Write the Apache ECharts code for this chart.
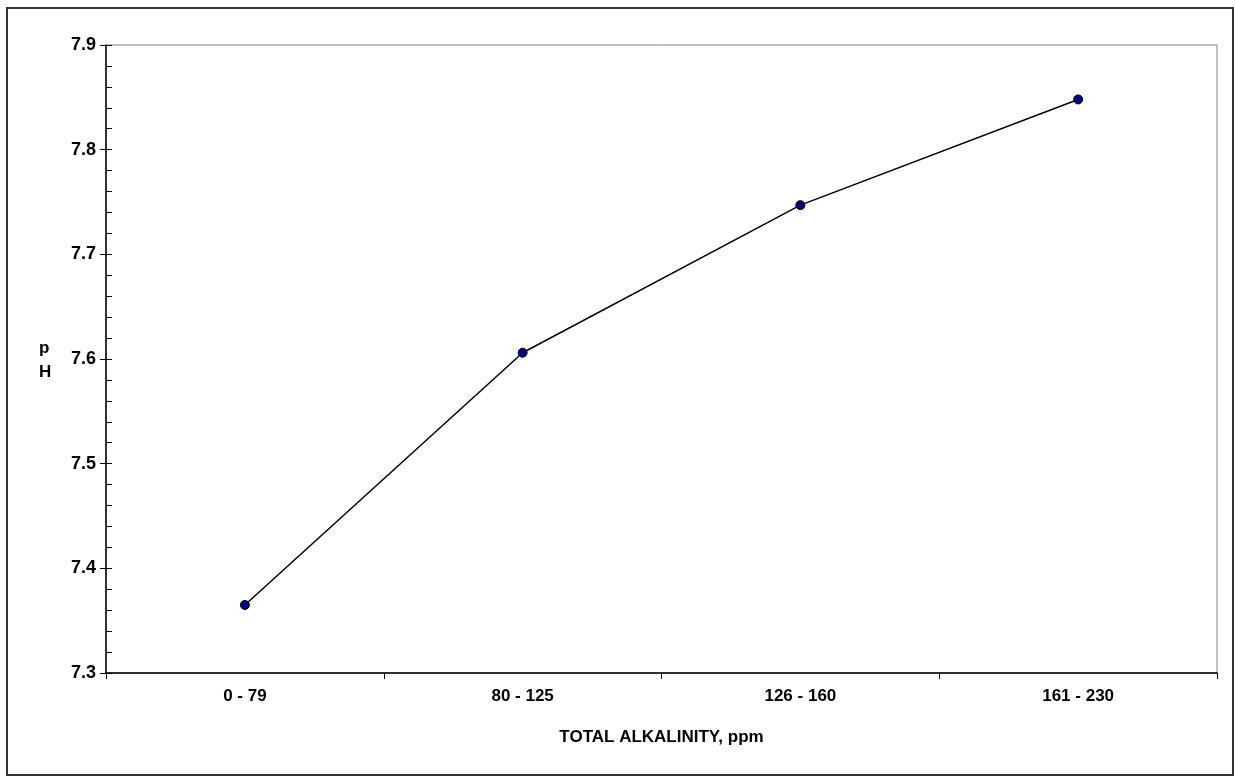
<!DOCTYPE html>
<html>
<head>
<meta charset="utf-8">
<script src="https://cdn.jsdelivr.net/npm/echarts@6/dist/echarts.min.js"></script>
<style>
html,body{margin:0;padding:0;background:#fff;}
#c{width:1235px;height:776px;}
</style>
</head>
<body>
<div id="c"></div>
<script>
const categories = ['0 - 79', '80 - 125', '126 - 160', '161 - 230'];
const phValues = [7.365, 7.606, 7.747, 7.848];
const xAxisTitle = 'TOTAL ALKALINITY, ppm';
const yAxisTitle = 'p\nH';

const chart = echarts.init(document.getElementById('c'));
const font = '"Liberation Sans", Arial, sans-serif';
chart.setOption({
  animation: false,
  backgroundColor: '#fff',
  grid: { left: 106, right: 18, top: 45, bottom: 103, show: true, borderColor: '#808080', borderWidth: 1, backgroundColor: 'transparent' },
  graphic: [
    { type: 'rect', shape: { x: 7, y: 8, width: 1226, height: 767 }, style: { fill: 'none', stroke: '#333', lineWidth: 2 }, silent: true },
    { type: 'text', left: 39, top: 336, style: { text: yAxisTitle, font: 'bold 17px ' + font, fill: '#000', lineHeight: 24 } }
  ],
  xAxis: {
    type: 'category', data: categories, boundaryGap: true,
    axisLine: { lineStyle: { color: '#000', width: 1.5 } },
    axisTick: { show: true, length: 6, lineStyle: { color: '#000' } },
    axisLabel: { color: '#000', fontFamily: font, fontWeight: 'bold', fontSize: 17, margin: 15 },
    name: xAxisTitle, nameLocation: 'middle', nameGap: 56,
    nameTextStyle: { color: '#000', fontFamily: font, fontWeight: 'bold', fontSize: 17 },
    splitLine: { show: false }
  },
  yAxis: [
    {
      type: 'value', min: 7.3, max: 7.9, interval: 0.1,
      axisLine: { show: true, lineStyle: { color: '#000', width: 1.5 } },
      axisTick: { show: true, length: 6, lineStyle: { color: '#000' } },
      axisLabel: { color: '#000', fontFamily: font, fontWeight: 'bold', fontSize: 18, margin: 10, formatter: v => v.toFixed(1) },
      splitLine: { show: false }
    },
    {
      type: 'value', min: 7.3, max: 7.9, interval: 0.1, position: 'left',
      axisLine: { show: false },
      axisTick: { show: true, inside: true, length: 6, lineStyle: { color: '#000' } },
      minorTick: { show: true, splitNumber: 5, length: 6, lineStyle: { color: '#000' } },
      axisLabel: { show: false },
      splitLine: { show: false }
    }
  ],
  series: [{
    type: 'line', data: phValues, yAxisIndex: 0,
    lineStyle: { color: '#000', width: 1.5 },
    symbol: 'circle', symbolSize: 9,
    itemStyle: { color: '#000080', borderColor: '#000', borderWidth: 1 }
  }]
});
</script>
</body>
</html>
